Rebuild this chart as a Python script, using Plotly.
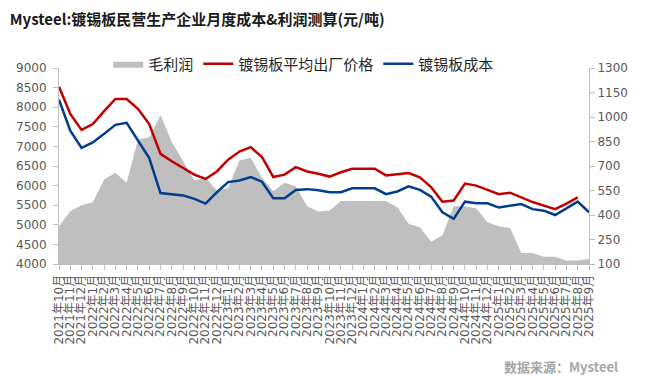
import plotly.graph_objects as go

# Categories: 2021年10月 .. 2025年9月
months = []
for y in range(2021, 2026):
    for m in range(1, 13):
        if (y == 2021 and m < 10) or (y == 2025 and m > 9):
            continue
        months.append(f"{y}年{m}月")

price = [8520, 7830, 7420, 7570, 7900, 8210, 8210, 7960, 7570, 6810,
         6620, 6460, 6280, 6170, 6360, 6660, 6870, 6980, 6730, 6220,
         6280, 6470, 6360, 6300, 6230, 6340, 6430, 6430, 6430, 6260,
         6290, 6320, 6210, 5960, 5590, 5620, 6050, 6000, 5890, 5780,
         5820, 5700, 5580, 5490, 5400, 5540, 5700, None]

cost = [8190, 7400, 6960, 7100, 7320, 7550, 7600, 7150, 6700, 5810,
        5780, 5750, 5660, 5540, 5830, 6090, 6130, 6220, 6100, 5680,
        5680, 5890, 5910, 5880, 5830, 5830, 5930, 5930, 5930, 5780,
        5850, 5980, 5890, 5720, 5320, 5150, 5590, 5550, 5550, 5440,
        5490, 5530, 5400, 5360, 5250, 5420, 5590, 5320]

profit = [331, 423, 460, 478, 617, 658, 597, 862, 876, 1011,
          848, 729, 611, 628, 550, 565, 734, 750, 628, 546,
          597, 576, 454, 421, 427, 485, 485, 485, 485, 485,
          448, 346, 325, 236, 276, 454, 454, 440, 356, 331,
          321, 168, 168, 144, 144, 121, 121, 130]

x = list(range(len(months)))

fig = go.Figure()
fig.add_trace(go.Scatter(x=x, y=profit, name="毛利润", mode="lines",
                         fill="tozeroy", fillcolor="#bfbfbf",
                         line=dict(width=0, color="#bfbfbf"), yaxis="y"))
fig.add_trace(go.Scatter(x=x, y=price, name="镀锡板平均出厂价格", mode="lines",
                         line=dict(width=2.5, color="#c00000"), yaxis="y2"))
fig.add_trace(go.Scatter(x=x, y=cost, name="镀锡板成本", mode="lines",
                         line=dict(width=2.5, color="#003d8f"), yaxis="y2"))

tickfont = dict(family="DejaVu Sans, Noto Sans CJK SC", size=12, color="#595959")
axcol = "#bfbfbf"

fig.update_layout(
    width=652, height=382,
    margin=dict(l=59, r=63, t=68, b=118, autoexpand=False),
    paper_bgcolor="white", plot_bgcolor="white",
    title=dict(text="<b>Mysteel:镀锡板民营生产企业月度成本&利润测算(元/吨)</b>",
               x=0.015, xanchor="left", y=0.948, yanchor="middle",
               pad=dict(l=0, r=0, t=0, b=0),
               font=dict(family="Noto Sans CJK SC", size=15, color="#1a1a1a")),
    showlegend=True,
    legend=dict(orientation="h", xref="container", yref="container",
                x=0.166, xanchor="left", y=1 - 64 / 382, yanchor="middle",
                bgcolor="rgba(0,0,0,0)",
                font=dict(family="Noto Sans CJK SC", size=15, color="#262626"),
                traceorder="normal"),
    xaxis=dict(range=[0, len(months) - 1], tickmode="array", tickvals=x,
               ticktext=months, tickangle=-90, tickfont=tickfont,
               showgrid=False, zeroline=False, showline=True, linecolor=axcol,
               ticks="outside", ticklen=5, tickcolor=axcol),
    yaxis=dict(range=[100, 1300], dtick=150, tick0=100, side="right",
               tickfont=tickfont, showgrid=False, zeroline=False,
               showline=True, linecolor=axcol, ticks="outside", ticklen=5,
               tickcolor=axcol),
    yaxis2=dict(range=[4000, 9000], dtick=500, side="left", overlaying="y",
                tickfont=tickfont, showgrid=False, zeroline=False,
                showline=True, linecolor=axcol, ticks="outside", ticklen=5,
                tickcolor=axcol, ticklabelstandoff=4),
    annotations=[dict(text="<b>数据来源：Mysteel</b>", xref="paper", yref="paper",
                      x=(620 - 59) / 530, y=(264 - 366) / 196,
                      xanchor="right", yanchor="middle",
                      showarrow=False,
                      font=dict(family="Noto Sans CJK SC", size=13, color="#a6a6a6"))],
)

fig.write_html("out.html", config={"displayModeBar": False},
               post_script="document.body.style.margin='0';document.body.style.padding='0';")
